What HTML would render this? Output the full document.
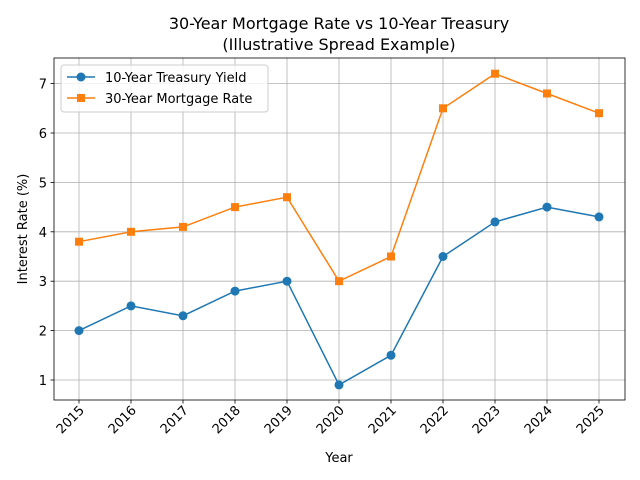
<!DOCTYPE html>
<html><head><style>body{margin:0;background:#fff}svg{display:block}text{font-family:"DejaVu Sans","Liberation Sans",sans-serif;fill:#000}</style></head>
<body>
<svg width="640" height="480" viewBox="0 0 640 480" xmlns="http://www.w3.org/2000/svg">
<rect width="640" height="480" fill="#fff"/>
<g stroke="#b0b0b0" stroke-width="0.8">
<line x1="79" y1="58" x2="79" y2="400"/><line x1="131" y1="58" x2="131" y2="400"/><line x1="183" y1="58" x2="183" y2="400"/><line x1="235" y1="58" x2="235" y2="400"/><line x1="287" y1="58" x2="287" y2="400"/><line x1="339" y1="58" x2="339" y2="400"/><line x1="391" y1="58" x2="391" y2="400"/><line x1="443" y1="58" x2="443" y2="400"/><line x1="495" y1="58" x2="495" y2="400"/><line x1="547" y1="58" x2="547" y2="400"/><line x1="599" y1="58" x2="599" y2="400"/>
<line x1="54" y1="380" x2="625" y2="380"/><line x1="54" y1="330.6" x2="625" y2="330.6"/><line x1="54" y1="281.2" x2="625" y2="281.2"/><line x1="54" y1="231.8" x2="625" y2="231.8"/><line x1="54" y1="182.4" x2="625" y2="182.4"/><line x1="54" y1="133" x2="625" y2="133"/><line x1="54" y1="83.6" x2="625" y2="83.6"/>
</g>
<rect x="54" y="58" width="571" height="342" fill="none" stroke="#000" stroke-width="0.8"/>
<g stroke="#000" stroke-width="0.8">
<line x1="54" y1="380" x2="50.5" y2="380"/><line x1="54" y1="330.6" x2="50.5" y2="330.6"/><line x1="54" y1="281.2" x2="50.5" y2="281.2"/><line x1="54" y1="231.8" x2="50.5" y2="231.8"/><line x1="54" y1="182.4" x2="50.5" y2="182.4"/><line x1="54" y1="133" x2="50.5" y2="133"/><line x1="54" y1="83.6" x2="50.5" y2="83.6"/>
<line x1="79" y1="400" x2="79" y2="403.5"/><line x1="131" y1="400" x2="131" y2="403.5"/><line x1="183" y1="400" x2="183" y2="403.5"/><line x1="235" y1="400" x2="235" y2="403.5"/><line x1="287" y1="400" x2="287" y2="403.5"/><line x1="339" y1="400" x2="339" y2="403.5"/><line x1="391" y1="400" x2="391" y2="403.5"/><line x1="443" y1="400" x2="443" y2="403.5"/><line x1="495" y1="400" x2="495" y2="403.5"/><line x1="547" y1="400" x2="547" y2="403.5"/><line x1="599" y1="400" x2="599" y2="403.5"/>
</g>
<g font-size="13" text-anchor="end">
<text x="47" y="385">1</text><text x="47" y="335.6">2</text><text x="47" y="286.2">3</text><text x="47" y="236.8">4</text><text x="47" y="187.4">5</text><text x="47" y="138">6</text><text x="47" y="88.6">7</text>
</g>
<g font-size="13" text-anchor="end">
<text transform="translate(85,411) rotate(-45)">2015</text><text transform="translate(137,411) rotate(-45)">2016</text><text transform="translate(189,411) rotate(-45)">2017</text><text transform="translate(241,411) rotate(-45)">2018</text><text transform="translate(293,411) rotate(-45)">2019</text><text transform="translate(345,411) rotate(-45)">2020</text><text transform="translate(397,411) rotate(-45)">2021</text><text transform="translate(449,411) rotate(-45)">2022</text><text transform="translate(501,411) rotate(-45)">2023</text><text transform="translate(553,411) rotate(-45)">2024</text><text transform="translate(605,411) rotate(-45)">2025</text>
</g>
<text x="339" y="462" font-size="13" text-anchor="middle">Year</text>
<text transform="translate(27,229) rotate(-90)" font-size="13" text-anchor="middle">Interest Rate (%)</text>
<text x="339" y="29" font-size="16" text-anchor="middle">30-Year Mortgage Rate vs 10-Year Treasury</text>
<text x="339" y="50" font-size="16" text-anchor="middle">(Illustrative Spread Example)</text>
<polyline fill="none" stroke="#1f77b4" stroke-width="1.5" points="79,330.6 131,305.9 183,315.8 235,291.1 287,281.2 339,384.9 391,355.3 443,256.5 495,221.9 547,207.1 599,216.9"/>
<g fill="#1f77b4">
<circle cx="79" cy="330.6" r="4.5"/><circle cx="131" cy="305.9" r="4.5"/><circle cx="183" cy="315.8" r="4.5"/><circle cx="235" cy="291.1" r="4.5"/><circle cx="287" cy="281.2" r="4.5"/><circle cx="339" cy="384.9" r="4.5"/><circle cx="391" cy="355.3" r="4.5"/><circle cx="443" cy="256.5" r="4.5"/><circle cx="495" cy="221.9" r="4.5"/><circle cx="547" cy="207.1" r="4.5"/><circle cx="599" cy="216.9" r="4.5"/>
</g>
<polyline fill="none" stroke="#ff7f0e" stroke-width="1.5" points="79,241.7 131,231.8 183,226.9 235,207.1 287,197.2 339,281.2 391,256.5 443,108.3 495,73.7 547,93.5 599,113.2"/>
<g fill="#ff7f0e">
<rect x="75" y="237.7" width="8" height="8"/><rect x="127" y="227.8" width="8" height="8"/><rect x="179" y="222.9" width="8" height="8"/><rect x="231" y="203.1" width="8" height="8"/><rect x="283" y="193.2" width="8" height="8"/><rect x="335" y="277.2" width="8" height="8"/><rect x="387" y="252.5" width="8" height="8"/><rect x="439" y="104.3" width="8" height="8"/><rect x="491" y="69.7" width="8" height="8"/><rect x="543" y="89.5" width="8" height="8"/><rect x="595" y="109.2" width="8" height="8"/>
</g>
<rect x="61" y="65" width="207" height="47" rx="3" fill="#fff" fill-opacity="0.8" stroke="#ccc"/>
<line x1="67" y1="77" x2="95" y2="77" stroke="#1f77b4" stroke-width="1.5"/><circle cx="81" cy="77" r="4.5" fill="#1f77b4"/>
<text x="105" y="82" font-size="13">10-Year Treasury Yield</text>
<line x1="67" y1="98" x2="95" y2="98" stroke="#ff7f0e" stroke-width="1.5"/><rect x="77" y="94" width="8" height="8" fill="#ff7f0e"/>
<text x="105" y="103" font-size="13">30-Year Mortgage Rate</text>
</svg>
</body></html>
